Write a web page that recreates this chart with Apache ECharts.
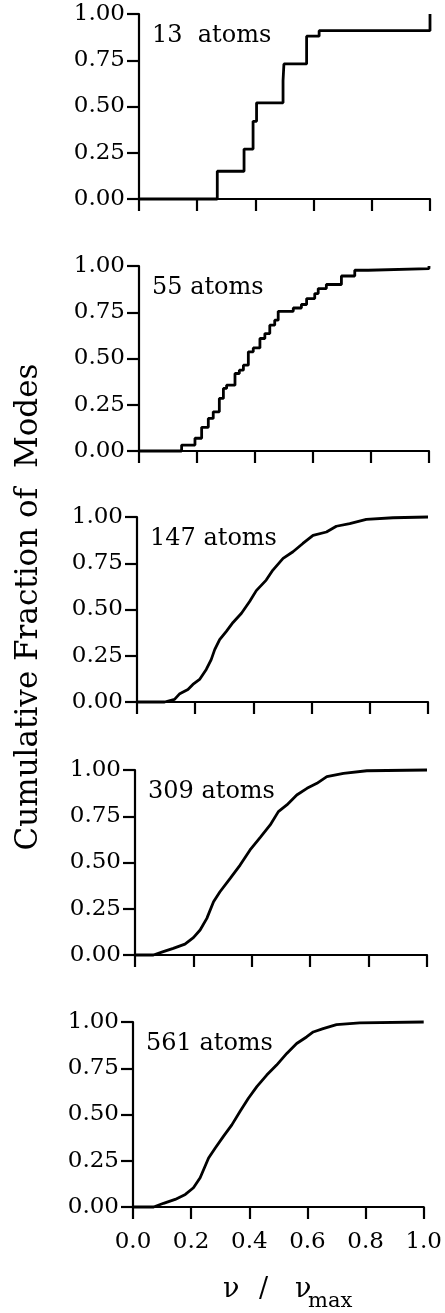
<!DOCTYPE html>
<html>
<head>
<meta charset="utf-8">
<script src="https://cdn.jsdelivr.net/npm/echarts@6/dist/echarts.min.js"></script>
<style>
  html, body { margin: 0; padding: 0; background: #fff; }
  #chart { width: 445px; height: 1313px; }
</style>
</head>
<body>
<div id="chart"></div>
<script>
// Cumulative distribution of normalized vibrational frequencies, one panel per cluster size
const panelLabels = ['13  atoms', '55 atoms', '147 atoms', '309 atoms', '561 atoms'];
const yTicks = [0, 0.25, 0.5, 0.75, 1.0];
const xTicks = [0, 0.2, 0.4, 0.6, 0.8, 1.0];

// 13 atoms (step curve: value after each jump)
const freq13 = [0, 0.269, 0.361, 0.392, 0.404, 0.495, 0.498, 0.576, 0.619, 1.0];
const frac13 = [0, 0.15, 0.27, 0.42, 0.52, 0.64, 0.73, 0.88, 0.91, 1.0];

// 55 atoms (step curve)
const freq55 = [0, 0.147, 0.193, 0.216, 0.239, 0.256, 0.277, 0.291, 0.302, 0.331, 0.346, 0.36, 0.377, 0.394, 0.417, 0.434, 0.451, 0.468, 0.48, 0.532, 0.56, 0.578, 0.606, 0.618, 0.646, 0.698, 0.744, 0.79, 1.0];
const frac55 = [0, 0.032, 0.069, 0.128, 0.176, 0.212, 0.284, 0.338, 0.356, 0.419, 0.437, 0.464, 0.536, 0.557, 0.608, 0.635, 0.68, 0.707, 0.755, 0.773, 0.792, 0.824, 0.851, 0.878, 0.9, 0.946, 0.977, 0.986, 1.0];

// 147 atoms
const freq147 = [0, 0.095, 0.129, 0.147, 0.175, 0.192, 0.215, 0.238, 0.255, 0.267, 0.284, 0.307, 0.33, 0.359, 0.387, 0.41, 0.444, 0.467, 0.502, 0.536, 0.57, 0.605, 0.651, 0.685, 0.731, 0.788, 0.88, 1.0];
const frac147 = [0, 0, 0.014, 0.045, 0.068, 0.095, 0.122, 0.176, 0.229, 0.283, 0.337, 0.382, 0.43, 0.48, 0.543, 0.602, 0.659, 0.713, 0.776, 0.812, 0.857, 0.901, 0.919, 0.95, 0.964, 0.987, 0.996, 1.0];

// 309 atoms
const freq309 = [0, 0.063, 0.097, 0.131, 0.171, 0.2, 0.223, 0.246, 0.269, 0.291, 0.326, 0.36, 0.394, 0.429, 0.463, 0.491, 0.52, 0.554, 0.589, 0.623, 0.657, 0.714, 0.794, 1.0];
const frac309 = [0, 0, 0.018, 0.036, 0.059, 0.094, 0.135, 0.198, 0.288, 0.342, 0.414, 0.486, 0.568, 0.636, 0.703, 0.775, 0.811, 0.865, 0.901, 0.928, 0.964, 0.982, 0.996, 1.0];

// 561 atoms
const freq561 = [0, 0.071, 0.105, 0.145, 0.18, 0.208, 0.231, 0.26, 0.283, 0.311, 0.34, 0.368, 0.397, 0.426, 0.46, 0.494, 0.529, 0.563, 0.597, 0.62, 0.654, 0.7, 0.78, 1.0];
const frac561 = [0, 0, 0.02, 0.041, 0.068, 0.104, 0.158, 0.265, 0.319, 0.382, 0.444, 0.516, 0.588, 0.651, 0.713, 0.767, 0.83, 0.884, 0.919, 0.946, 0.964, 0.986, 0.995, 1.0];

const curves = [
  { x: freq13, y: frac13, step: 'end' },
  { x: freq55, y: frac55, step: 'end' },
  { x: freq147, y: frac147, step: false },
  { x: freq309, y: frac309, step: false },
  { x: freq561, y: frac561, step: false }
];

// panel frames (pixels)
const frames = [
  { left: 139, right: 430, top: 14 },
  { left: 139, right: 429, top: 266 },
  { left: 137, right: 428, top: 517 },
  { left: 135, right: 427, top: 770 },
  { left: 133, right: 424, top: 1022 }
];
const panelHeight = 185;

const FONT = '"DejaVu Serif", "Liberation Serif", serif';
const black = '#000';

const grids = [], xAxes = [], yAxes = [], series = [], graphics = [];

frames.forEach((f, i) => {
  grids.push({ left: f.left, top: f.top, width: f.right - f.left, height: panelHeight });
  xAxes.push({
    type: 'value', gridIndex: i, min: xTicks[0], max: xTicks[xTicks.length - 1], interval: 0.2,
    axisLine: { show: true, onZero: false, lineStyle: { color: black, width: 2.2 } },
    axisTick: { show: true, inside: false, length: 12, lineStyle: { color: black, width: 2.2 } },
    axisLabel: {
      show: i === frames.length - 1, color: black, fontFamily: FONT, fontSize: 23, margin: 24,
      formatter: v => v.toFixed(1)
    },
    splitLine: { show: false }
  });
  yAxes.push({
    type: 'value', gridIndex: i, min: yTicks[0], max: yTicks[yTicks.length - 1], interval: 0.25,
    axisLine: { show: true, onZero: false, lineStyle: { color: black, width: 2.2 } },
    axisTick: { show: true, inside: false, length: 12, lineStyle: { color: black, width: 2.2 } },
    axisLabel: { color: black, fontFamily: FONT, fontSize: 23, margin: 14, formatter: v => v.toFixed(2) },
    splitLine: { show: false }
  });
  const c = curves[i];
  series.push({
    type: 'line', xAxisIndex: i, yAxisIndex: i,
    data: c.x.map((v, k) => [v, c.y[k]]),
    step: c.step, showSymbol: false, clip: false, silent: true,
    lineStyle: { color: black, width: 2.8 }
  });
  graphics.push({
    type: 'text', x: f.left + 13, y: f.top + 22,
    style: { text: panelLabels[i], font: '24px ' + FONT, fill: black, textAlign: 'left', textVerticalAlign: 'middle' }
  });
});

// shared y-axis title
graphics.push({
  type: 'text', x: 29, y: 607, rotation: Math.PI / 2,
  style: { text: 'Cumulative Fraction of  Modes', font: '31px ' + FONT, fill: black, textAlign: 'center', textVerticalAlign: 'middle' }
});

// shared x-axis title: ν / ν with a lowered "max" subscript
const xTitleParts = [
  { text: 'ν', x: 223, y: 1290, size: 27 },
  { text: '/', x: 259, y: 1290, size: 27 },
  { text: 'ν', x: 295, y: 1290, size: 27 },
  { text: 'max', x: 308, y: 1302, size: 21 }
];
xTitleParts.forEach(p => graphics.push({
  type: 'text', x: p.x, y: p.y,
  style: { text: p.text, font: p.size + 'px ' + FONT, fill: black, textAlign: 'left', textVerticalAlign: 'middle' }
}));

const chart = echarts.init(document.getElementById('chart'), null, { renderer: 'canvas' });
chart.setOption({
  animation: false,
  backgroundColor: '#fff',
  grid: grids,
  xAxis: xAxes,
  yAxis: yAxes,
  series: series,
  graphic: graphics
});
</script>
</body>
</html>
